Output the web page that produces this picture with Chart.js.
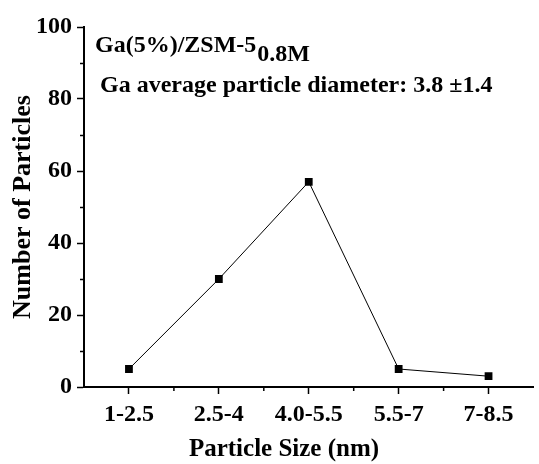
<!DOCTYPE html>
<html>
<head>
<meta charset="utf-8">
<script src="https://cdn.jsdelivr.net/npm/chart.js@4"></script>
<style>
  html, body { margin: 0; padding: 0; background: #fff; }
  canvas { display: block; }
</style>
</head>
<body>
<canvas id="chart" width="539" height="464"></canvas>
<script>
// Particle size distribution of Ga on ZSM-5
const sizeBins = ['1-2.5', '2.5-4', '4.0-5.5', '5.5-7', '7-8.5'];
const particleCounts = [5, 30, 57, 5, 3];
const yMinorValues = [10, 30, 50, 70, 90];

const SERIF = '"Liberation Serif", "Times New Roman", serif';

// Short minor ticks on both axes plus the in-plot text
const extras = {
  id: 'extras',
  afterDraw(chart) {
    const { ctx, chartArea, scales } = chart;
    const x = scales.x, y = scales.y;
    ctx.save();
    ctx.strokeStyle = '#000';
    ctx.lineWidth = 1.5;
    ctx.beginPath();
    yMinorValues.forEach(v => {
      const py = Math.round(y.getPixelForValue(v)) + 0.5;
      ctx.moveTo(chartArea.left - 4, py);
      ctx.lineTo(chartArea.left, py);
    });
    for (let i = 1; i < sizeBins.length; i++) {
      const px = (x.getPixelForValue(i - 1) + x.getPixelForValue(i)) / 2;
      ctx.moveTo(px, chartArea.bottom);
      ctx.lineTo(px, chartArea.bottom + 4);
    }
    ctx.stroke();

    ctx.fillStyle = '#000';
    ctx.textAlign = 'left';
    ctx.textBaseline = 'alphabetic';
    ctx.font = 'bold 24px ' + SERIF;
    const l1x = chartArea.left + 11;
    const l1y = y.getPixelForValue(93);
    const main = 'Ga(5%)/ZSM-5';
    ctx.fillText(main, l1x, l1y);
    const w = ctx.measureText(main).width;
    ctx.fillText('0.8M', l1x + w + 1, l1y + 9);
    ctx.fillText('Ga average particle diameter: 3.8 \u00B11.4', chartArea.left + 16, y.getPixelForValue(82));

    ctx.font = 'bold 25px ' + SERIF;
    ctx.textAlign = 'center';
    ctx.fillText('Particle Size (nm)', chartArea.left + 200, 456);
    ctx.restore();
  }
};

new Chart(document.getElementById('chart'), {
  type: 'line',
  data: {
    labels: sizeBins,
    datasets: [{
      data: particleCounts,
      borderColor: '#000',
      borderWidth: 1,
      backgroundColor: '#000',
      pointStyle: 'rect',
      pointRadius: 5.5,
      pointHoverRadius: 5.5,
      pointBackgroundColor: '#000',
      pointBorderWidth: 0,
      tension: 0
    }]
  },
  options: {
    responsive: false,
    devicePixelRatio: 1,
    animation: false,
    layout: { padding: { top: 27, right: 1, left: 0, bottom: 0 } },
    plugins: { legend: { display: false }, tooltip: { enabled: false } },
    scales: {
      x: {
        type: 'category',
        offset: true,
        afterFit(scale) { scale.height = 77; },
        grid: {
          offset: false,
          drawOnChartArea: false,
          drawTicks: true,
          tickLength: 7,
          tickWidth: 1.5,
          tickColor: '#000'
        },
        border: { display: true, color: '#000', width: 2 },
        ticks: {
          color: '#000',
          padding: 6,
          maxRotation: 0,
          font: { family: SERIF, size: 24, weight: 'bold' }
        }
      },
      y: {
        min: 0,
        max: 100,
        afterFit(scale) { scale.width = 84; },
        grid: {
          drawOnChartArea: false,
          drawTicks: true,
          tickLength: 7,
          tickWidth: 1.5,
          tickColor: '#000'
        },
        border: { display: true, color: '#000', width: 2 },
        ticks: {
          stepSize: 20,
          color: '#000',
          padding: 5,
          font: { family: SERIF, size: 24, weight: 'bold' }
        },
        title: {
          display: true,
          text: 'Number of Particles',
          color: '#000',
          padding: { top: 8, bottom: 0 },
          font: { family: SERIF, size: 26, weight: 'bold' }
        }
      }
    }
  },
  plugins: [extras]
});
</script>
</body>
</html>
